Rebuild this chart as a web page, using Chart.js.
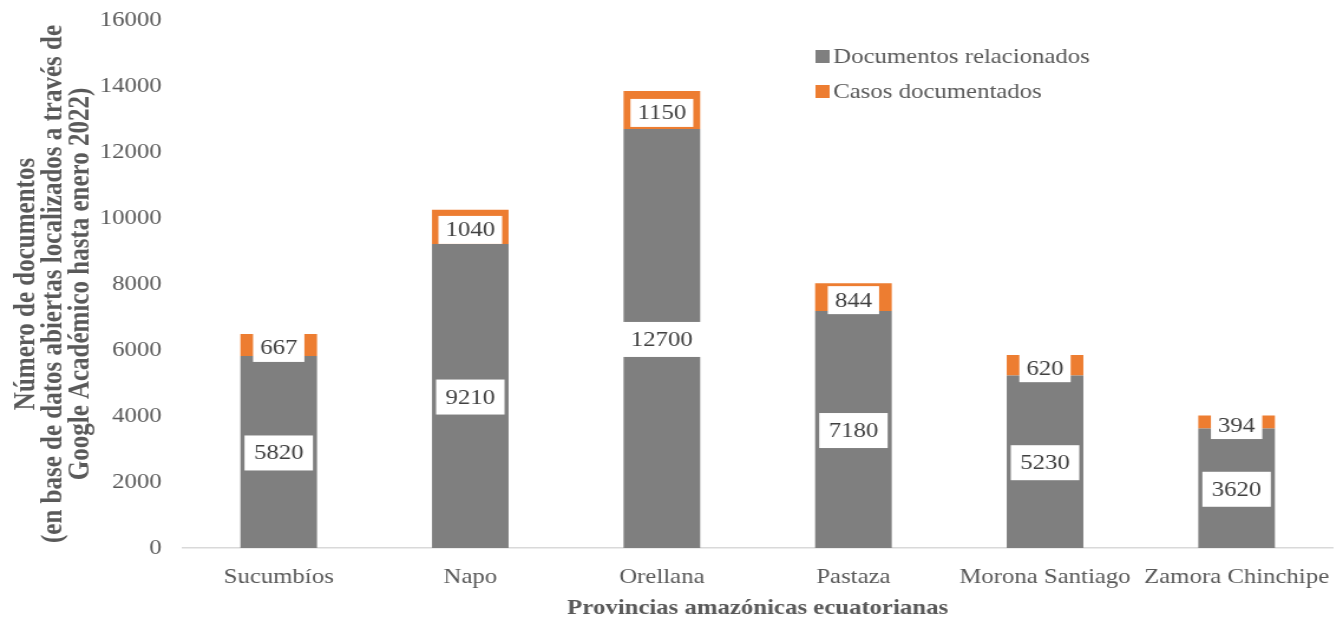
<!DOCTYPE html>
<html><head><meta charset="utf-8">
<script src="https://cdn.jsdelivr.net/npm/chart.js@4"></script>
<style>html,body{margin:0;padding:0;background:#fff;overflow:hidden}#wrap{width:1343px;height:624px}</style>
</head><body><div id="wrap"><canvas id="c" width="1138" height="624" style="width:1343px;height:624px;display:block"></canvas></div>
<script>
const categories = ['Sucumbíos','Napo','Orellana','Pastaza','Morona Santiago','Zamora Chinchipe'];
const documentosRelacionados = [5820, 9210, 12700, 7180, 5230, 3620];
const casosDocumentados = [667, 1040, 1150, 844, 620, 394];
const seriesNames = ['Documentos relacionados','Casos documentados'];
const yTicks = [0,2000,4000,6000,8000,10000,12000,14000,16000];
const yTitle = ['Número de documentos','(en base de datos abiertas localizados a través de','Google Académico hasta enero 2022)'];
const xTitle = 'Provincias amazónicas ecuatorianas';

const FONT = "'Liberation Serif', 'Times New Roman', serif";
const FS = 21;

const labelPlugin = {
  id: 'boxLabels',
  afterDatasetsDraw(chart) {
    const ctx = chart.ctx;
    ctx.save();
    ctx.font = FS + 'px ' + FONT;
    ctx.textAlign = 'center';
    ctx.textBaseline = 'middle';
    chart.data.datasets.forEach((ds, di) => {
      const meta = chart.getDatasetMeta(di);
      const h = di === 0 ? 35 : 28;
      const pad = di === 0 ? 16 : 12;
      meta.data.forEach((bar, i) => {
        const txt = String(ds.data[i]);
        const cy = (bar.y + bar.base) / 2 + (di === 0 ? 1 : 3);
        const w = ctx.measureText(txt).width + pad;
        ctx.fillStyle = '#ffffff';
        ctx.fillRect(bar.x - w/2, cy - h/2, w, h);
        ctx.fillStyle = '#404040';
        ctx.fillText(txt, bar.x, cy + 1);
      });
    });
    ctx.restore();
  }
};

const legendPlugin = {
  id: 'innerLegend',
  afterDraw(chart) {
    const ctx = chart.ctx;
    ctx.save();
    ctx.font = FS + 'px ' + FONT;
    ctx.textBaseline = 'middle';
    ctx.textAlign = 'left';
    const x = 691, ys = [56, 91];
    chart.data.datasets.forEach((ds, i) => {
      ctx.fillStyle = ds.backgroundColor;
      ctx.fillRect(x, ys[i] - 6, 12, 13);
      ctx.fillStyle = '#595959';
      ctx.fillText(ds.label, x + 15, ys[i] + 1);
    });
    ctx.restore();
  }
};

new Chart(document.getElementById('c'), {
  type: 'bar',
  data: {
    labels: categories,
    datasets: [
      { label: seriesNames[0], data: documentosRelacionados, backgroundColor: '#7f7f7f' },
      { label: seriesNames[1], data: casosDocumentados, backgroundColor: '#ed7d31' }
    ]
  },
  options: {
    responsive: false,
    maintainAspectRatio: false,
    devicePixelRatio: 1,
    animation: false,
    layout: { autoPadding: false, padding: { left: 0, right: 9, top: 20, bottom: 0 } },
    categoryPercentage: 0.8,
    barPercentage: 0.5,
    plugins: { legend: { display: false }, tooltip: { enabled: false } },
    scales: {
      x: {
        stacked: true,
        grid: { display: false, drawTicks: false },
        border: { color: '#d9d9d9', width: 1.5 },
        ticks: { color: '#595959', font: { family: FONT, size: FS }, padding: 17, maxRotation: 0, autoSkip: false },
        title: { display: true, text: xTitle, color: '#595959', font: { family: FONT, size: FS, weight: 'bold' }, padding: { top: 0, bottom: 3 } },
        afterFit(s) { s.height = 76; s.paddingLeft = 0; s.paddingRight = 0; }
      },
      y: {
        stacked: true,
        min: 0, max: 16000,
        afterBuildTicks(s) { s.ticks = yTicks.map(v => ({ value: v })); },
        grid: { display: false, drawTicks: false },
        border: { display: false },
        ticks: { color: '#595959', font: { family: FONT, size: FS }, padding: 18, callback: v => String(v) },
        title: { display: true, text: yTitle, color: '#595959', font: { family: FONT, size: 25, weight: 'bold', lineHeight: 0.92 }, padding: { top: 11, bottom: 0 } },
        afterFit(s) { s.width = 155; s.paddingTop = 0; s.paddingBottom = 0; }
      }
    }
  },
  plugins: [labelPlugin, legendPlugin]
});
</script>
</body></html>
